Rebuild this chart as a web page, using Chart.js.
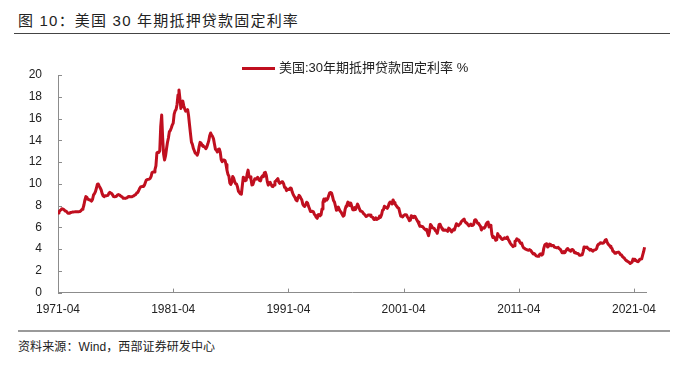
<!DOCTYPE html>
<html>
<head>
<meta charset="utf-8">
<script src="https://cdn.jsdelivr.net/npm/chart.js@4.4.1/dist/chart.umd.min.js"></script>
<style>
  body { margin:0; width:688px; height:370px; background:#fff; position:relative; overflow:hidden;
         font-family:"Liberation Sans","Noto Sans CJK SC",sans-serif; }
  #title { position:absolute; left:18px; top:9px; font-size:15px; color:#222; letter-spacing:1.2px; white-space:nowrap; }
  #rule-top { position:absolute; left:14px; top:33px; width:656px; height:0; border-top:1.5px solid #444; }
  #rule-bot { position:absolute; left:18px; top:330px; width:652px; height:0; border-top:2px solid #9a9a9a; }
  #source { position:absolute; left:18px; top:337px; font-size:12px; color:#222; letter-spacing:0.1px; white-space:nowrap; }
  #wrap { position:absolute; left:0; top:40px; width:688px; height:279px; }
</style>
</head>
<body>
<div id="title">图 10：美国 30 年期抵押贷款固定利率</div>
<div id="rule-top"></div>
<div id="wrap"><canvas id="chart"></canvas></div>
<div id="rule-bot"></div>
<div id="source">资料来源：Wind，西部证券研发中心</div>

<script>
// 美国30年期抵押贷款固定利率（月度，%），起点 1971-04
const startYear  = 1971;
const startMonth = 4;
const seriesName = '美国:30年期抵押贷款固定利率 %';
const tickLabels = ['1971-04','1981-04','1991-04','2001-04','2011-04','2021-04'];
const yTicks     = [0,2,4,6,8,10,12,14,16,18,20];

const rates1970s = [
  7.31,7.43,7.53,7.60,7.70,7.69,7.63,7.55,7.48,
  7.44,7.32,7.29,7.29,7.37,7.37,7.40,7.40,7.42,7.43,7.44,7.44,
  7.44,7.44,7.46,7.54,7.65,7.73,8.05,8.50,8.82,8.77,8.58,8.54,
  8.54,8.46,8.41,8.58,8.97,9.09,9.28,9.59,9.96,9.98,9.79,9.62,
  9.43,9.10,8.89,8.82,8.91,8.89,8.89,8.94,9.13,9.22,9.14,9.10,
  8.96,8.82,8.80,8.82,8.87,8.98,9.01,8.97,8.90,8.84,8.78,8.67,
  8.68,8.66,8.69,8.71,8.81,8.83,8.81,8.82,8.81,8.86,8.90,8.96,
  9.02,9.16,9.20,9.36,9.57,9.71,9.74,9.77,9.76,9.86,10.11,10.35,
  10.39,10.41,10.43,10.50,10.69,11.04,11.09,11.09,11.30,11.64,12.83,12.90
];
const rates1980s = [
  12.88,13.04,15.28,16.32,14.26,12.71,12.19,12.56,13.20,13.79,14.21,14.79,
  14.90,15.13,15.40,15.58,16.40,16.70,16.83,17.29,18.16,18.63,17.83,16.92,
  17.40,17.60,17.16,16.89,16.68,16.70,16.82,16.27,15.43,14.61,13.83,13.62,
  13.25,13.04,12.80,12.78,12.63,12.87,13.42,13.81,13.73,13.54,13.44,13.42,
  13.37,13.23,13.39,13.65,13.94,14.42,14.67,14.47,14.35,14.13,13.64,13.18,
  13.08,12.92,13.17,13.20,12.91,12.22,12.03,12.19,12.19,12.14,11.78,11.26,
  10.88,10.71,10.08,9.94,10.14,10.68,10.51,10.20,10.01,9.97,9.70,9.31,
  9.20,9.08,9.04,9.83,10.60,10.54,10.28,10.33,10.89,11.26,10.65,10.65,
  10.43,9.89,9.93,10.20,10.46,10.46,10.43,10.60,10.48,10.30,10.27,10.61,
  10.73,10.65,11.03,11.05,10.77,10.20,9.88,9.99,10.13,9.95,9.77,9.74
];
const rates1990s = [
  9.90,10.20,10.27,10.37,10.48,10.16,10.04,10.10,10.18,10.18,10.01,9.67,
  9.64,9.37,9.50,9.49,9.47,9.62,9.58,9.24,9.01,8.86,8.71,8.50,
  8.43,8.76,8.94,8.85,8.67,8.51,8.13,7.98,7.92,8.09,8.31,8.22,
  7.92,7.71,7.46,7.46,7.47,7.42,7.21,7.11,6.92,6.83,7.16,7.17,
  7.06,7.15,7.68,8.32,8.60,8.40,8.61,8.51,8.64,8.93,9.17,9.20,
  9.15,8.83,8.46,8.32,7.96,7.57,7.61,7.86,7.64,7.48,7.38,7.20,
  7.03,7.08,7.62,7.93,8.07,8.32,8.25,8.00,8.23,7.92,7.62,7.60,
  7.82,7.65,7.90,8.14,7.94,7.69,7.50,7.48,7.43,7.29,7.21,7.10,
  6.99,7.04,7.13,7.14,7.14,7.00,6.95,6.92,6.72,6.71,6.87,6.72,
  6.79,6.81,7.04,6.92,7.15,7.55,7.63,7.94,7.82,7.85,7.74,7.91
];
const rates2000s = [
  8.21,8.33,8.24,8.15,8.52,8.29,8.15,8.03,7.91,7.80,7.75,7.38,
  7.03,7.05,6.95,7.08,7.15,7.16,7.13,6.95,6.82,6.62,6.66,7.07,
  7.00,6.89,7.01,6.99,6.81,6.65,6.49,6.29,6.09,6.11,6.07,6.05,
  5.92,5.84,5.75,5.81,5.48,5.23,5.63,6.26,6.15,5.95,5.93,5.88,
  5.71,5.64,5.45,5.83,6.27,6.29,6.06,5.87,5.75,5.72,5.73,5.75,
  5.71,5.63,5.93,5.86,5.72,5.58,5.70,5.82,5.77,6.07,6.33,6.27,
  6.15,6.25,6.32,6.51,6.60,6.68,6.76,6.52,6.40,6.36,6.24,6.14,
  6.22,6.29,6.16,6.18,6.26,6.66,6.70,6.57,6.38,6.38,6.21,6.10,
  5.76,5.92,5.97,5.92,6.04,6.32,6.43,6.48,6.04,6.20,6.09,5.33,
  5.06,5.13,5.00,4.81,4.86,5.42,5.22,5.19,5.06,4.95,4.88,4.93
];
const rates2010s = [
  5.03,4.99,4.97,5.10,4.89,4.74,4.56,4.43,4.35,4.23,4.30,4.71,
  4.76,4.95,4.84,4.84,4.64,4.51,4.55,4.27,4.11,4.07,3.99,3.96,
  3.92,3.89,3.95,3.91,3.80,3.68,3.55,3.60,3.50,3.38,3.35,3.35,
  3.41,3.53,3.57,3.45,3.54,4.07,4.37,4.46,4.49,4.19,4.26,4.46,
  4.43,4.30,4.34,4.34,4.19,4.16,4.13,4.12,4.16,4.04,4.00,3.86,
  3.67,3.71,3.77,3.67,3.84,3.98,4.05,3.91,3.89,3.80,3.94,3.96,
  3.87,3.66,3.69,3.61,3.60,3.57,3.44,3.44,3.46,3.47,3.77,4.20,
  4.15,4.17,4.20,4.05,4.01,3.90,3.97,3.88,3.81,3.90,3.92,3.95,
  4.03,4.33,4.44,4.47,4.59,4.57,4.53,4.55,4.63,4.83,4.87,4.64,
  4.46,4.37,4.27,4.14,4.07,3.80,3.77,3.62,3.61,3.69,3.70,3.72
];
const rates2020s = [
  3.62,3.47,3.45,3.31,3.23,3.16,3.02,2.94,2.89,2.83,2.77,2.68,
  2.74,2.81,3.08,3.06,2.96,2.98,2.87,2.84,2.90,3.07,3.07,3.10,
  3.45,3.76,4.17
];

const rates = [].concat(rates1970s, rates1980s, rates1990s, rates2000s, rates2010s, rates2020s);
const t0 = startYear + (startMonth - 1) / 12;
const points = rates.map((v, i) => ({ x: t0 + i / 12, y: v }));
const tickPos = tickLabels.map(s => +s.slice(0, 4) + (+s.slice(5) - 1) / 12);

const AXIS = '#8c8c8c';
const RED  = '#c00f1f';
const FONT = '"Liberation Sans","Noto Sans CJK SC",sans-serif';

// 刻度线画在坐标轴内侧
const innerTicks = {
  id: 'innerTicks',
  afterDraw(chart) {
    const { ctx, chartArea: a, scales: { x, y } } = chart;
    ctx.save();
    ctx.strokeStyle = AXIS; ctx.lineWidth = 1;
    ctx.beginPath();
    tickPos.forEach(t => { const px = Math.round(x.getPixelForValue(t)) + 0.5; ctx.moveTo(px, a.bottom); ctx.lineTo(px, a.bottom - 4); });
    yTicks.forEach(t => { const py = Math.round(y.getPixelForValue(t)) + 0.5; ctx.moveTo(a.left, py); ctx.lineTo(a.left + 4, py); });
    ctx.stroke();
    ctx.restore();
  }
};

// 图例：位置与原图对齐
const legendLine = {
  id: 'legendLine',
  afterDraw(chart) {
    const { ctx } = chart;
    const ds = chart.data.datasets[0];
    ctx.save();
    ctx.strokeStyle = ds.borderColor; ctx.lineWidth = 3;
    ctx.beginPath(); ctx.moveTo(242, 28.5); ctx.lineTo(275, 28.5); ctx.stroke();
    ctx.fillStyle = '#222';
    ctx.font = '13px ' + FONT;
    ctx.textBaseline = 'middle';
    ctx.fillText(ds.label, 279, 28.5);
    ctx.restore();
  }
};

new Chart(document.getElementById('chart').getContext('2d'), {
  type: 'line',
  data: { datasets: [{ label: seriesName, data: points, borderColor: RED, backgroundColor: RED,
    borderWidth: 3, pointRadius: 0, tension: 0, borderJoinStyle: 'round' }] },
  options: {
    responsive: true, maintainAspectRatio: false, animation: false,
    layout: { padding: { left: 0, right: 42, top: 35, bottom: 0 } },
    plugins: {
      tooltip: { enabled: false },
      legend: { display: false }
    },
    scales: {
      x: {
        type: 'linear', min: t0, max: 2022.29,
        afterBuildTicks: s => { s.ticks = tickPos.map(v => ({ value: v })); },
        ticks: { color: '#222', font: { family: FONT, size: 12 }, maxRotation: 0, autoSkip: false, padding: 2,
          callback: (v, i) => tickLabels[i] },
        grid: { display: false }, border: { color: AXIS, width: 1 }
      },
      y: {
        min: 0, max: 20,
        afterBuildTicks: s => { s.ticks = yTicks.map(v => ({ value: v })); },
        afterFit: s => { s.width = 58; },
        ticks: { color: '#222', font: { family: FONT, size: 12 }, padding: 8 },
        grid: { display: false }, border: { color: AXIS, width: 1 }
      }
    }
  },
  plugins: [innerTicks, legendLine]
});
</script>
</body>
</html>
